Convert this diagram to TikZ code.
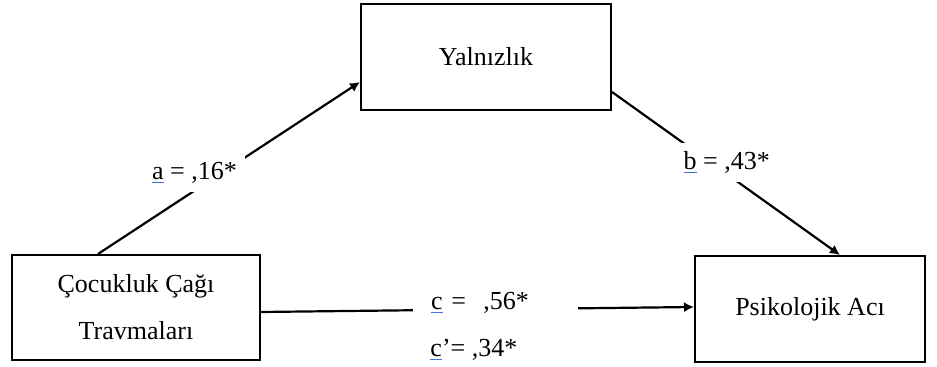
\documentclass[tikz,border=0pt]{standalone}
\usepackage{fontspec}
\setmainfont{Liberation Serif}
\usetikzlibrary{arrows.meta,positioning}
\definecolor{ulblue}{RGB}{68,114,220}
\newcommand{\blueul}[1]{{\color{ulblue}\underline{\textcolor{black}{#1}}}}
\tikzset{
  var/.style={draw=black,line width=1pt,fill=white,align=center,inner sep=0pt,font=\fontsize{13pt}{23.5pt}\selectfont},
  link/.style={-{Latex[length=5pt,width=5pt]},line width=1.1pt},
  coef/.style={fill=white,inner xsep=4pt,inner ysep=4pt,font=\fontsize{13pt}{15pt}\selectfont}
}
\begin{document}
\begin{tikzpicture}[x=0.5pt,y=-0.5pt]
\useasboundingbox (0,0) rectangle (937,367);
% variables
\node[var,minimum width=125pt,minimum height=53pt] (yal) at (486,57) {Yalnızlık};
\node[var,minimum width=124pt,minimum height=52.5pt] (cocuk) at (136,307.5) {Çocukluk Çağı\\Travmaları};
\node[var,minimum width=115pt,minimum height=53pt] (psik) at (810,309) {Psikolojik Acı};
% paths
\draw[link] ([xshift=-19pt]cocuk.north) -- node[coef,pos=0.471,xshift=-13.5pt] (lbla) {\blueul{a} = ,16*} ([yshift=-12.5pt]yal.west);
\draw[link] ([yshift=-17.5pt]yal.east) -- node[coef,pos=0.433,xshift=8pt] (lblb) {\blueul{b} = ,43*} ([xshift=15pt]psik.north);
\draw[link] ([yshift=-2.25pt]cocuk.east) -- node[coef,pos=0.542,yshift=3pt,inner xsep=9pt,text width=64.5pt,align=left] (lblc) {\blueul{c} = \ ,56*} ([yshift=1pt]psik.west);
\node[coef,inner sep=0pt,anchor=west] (lblcp) at ([xshift=9pt,yshift=-23.5pt]lblc.west) {\blueul{c}’= ,34*};
\end{tikzpicture}
\end{document}
